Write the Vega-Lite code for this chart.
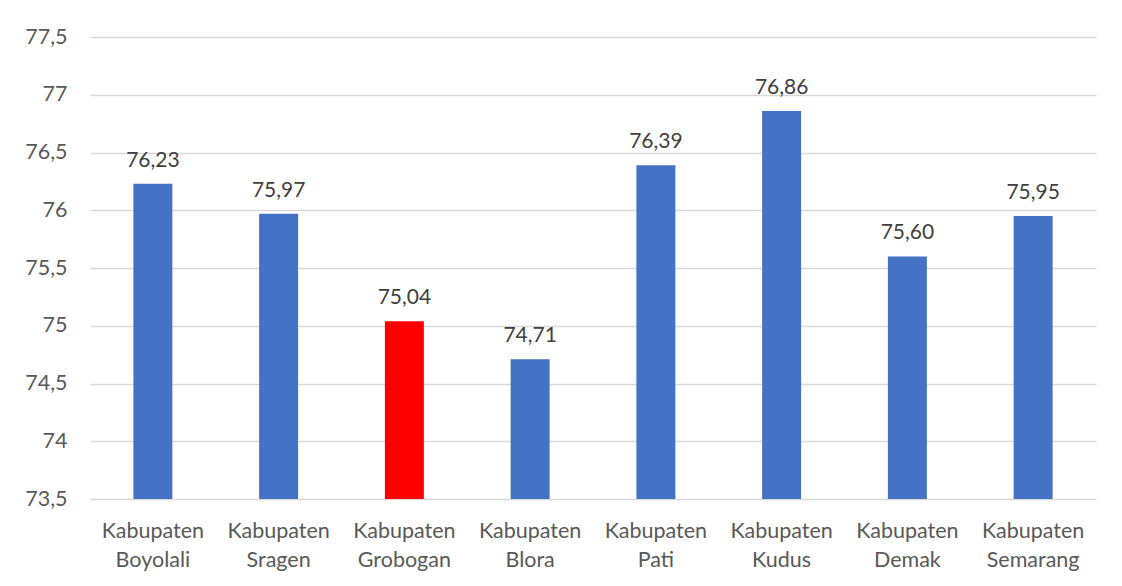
{
  "$schema": "https://vega.github.io/schema/vega-lite/v6.json",
  "width": 1006,
  "height": 462,
  "autosize": {"type": "none"},
  "padding": {"left": 90, "top": 37, "right": 26, "bottom": 87},
  "background": "white",
  "config": {
    "view": {"stroke": null},
    "font": "Lato",
    "locale": {"number": {"decimal": ",", "thousands": ".", "grouping": [3], "currency": ["", ""]}}
  },
  "data": {
    "values": [
      {"kab": "Kabupaten Boyolali", "ahh": 76.23, "grp": "other"},
      {"kab": "Kabupaten Sragen", "ahh": 75.97, "grp": "other"},
      {"kab": "Kabupaten Grobogan", "ahh": 75.04, "grp": "highlight"},
      {"kab": "Kabupaten Blora", "ahh": 74.71, "grp": "other"},
      {"kab": "Kabupaten Pati", "ahh": 76.39, "grp": "other"},
      {"kab": "Kabupaten Kudus", "ahh": 76.86, "grp": "other"},
      {"kab": "Kabupaten Demak", "ahh": 75.60, "grp": "other"},
      {"kab": "Kabupaten Semarang", "ahh": 75.95, "grp": "other"}
    ]
  },
  "encoding": {
    "x": {
      "field": "kab", "type": "nominal", "sort": null,
      "scale": {"paddingInner": 0.69, "paddingOuter": 0.345},
      "axis": {
        "title": null, "labelAngle": 0, "ticks": false, "domain": false,
        "labelExpr": "split(datum.label, ' ')",
        "labelFontSize": 21.5, "labelColor": "#595959", "labelPadding": 21,
        "labelLineHeight": 29, "labelFont": "Lato"
      }
    },
    "y": {
      "field": "ahh", "type": "quantitative",
      "scale": {"domain": [73.5, 77.5], "zero": false, "nice": false},
      "axis": {
        "title": null, "values": [73.5, 74, 74.5, 75, 75.5, 76, 76.5, 77, 77.5],
        "format": "", "ticks": false, "domain": false,
        "gridColor": "#d9d9d9", "gridWidth": 1.5,
        "labelFontSize": 21.5, "labelColor": "#595959", "labelPadding": 23, "labelFont": "Lato"
      }
    }
  },
  "layer": [
    {
      "mark": {"type": "bar", "clip": true},
      "encoding": {
        "color": {
          "field": "grp", "type": "nominal",
          "scale": {"domain": ["other", "highlight"], "range": ["#4472C4", "#FF0000"]},
          "legend": null
        }
      }
    },
    {
      "mark": {"type": "text", "baseline": "bottom", "dy": -13, "fontSize": 21, "color": "#404040", "font": "Lato"},
      "encoding": {
        "text": {"field": "ahh", "type": "quantitative", "format": ".2f"}
      }
    }
  ]
}
